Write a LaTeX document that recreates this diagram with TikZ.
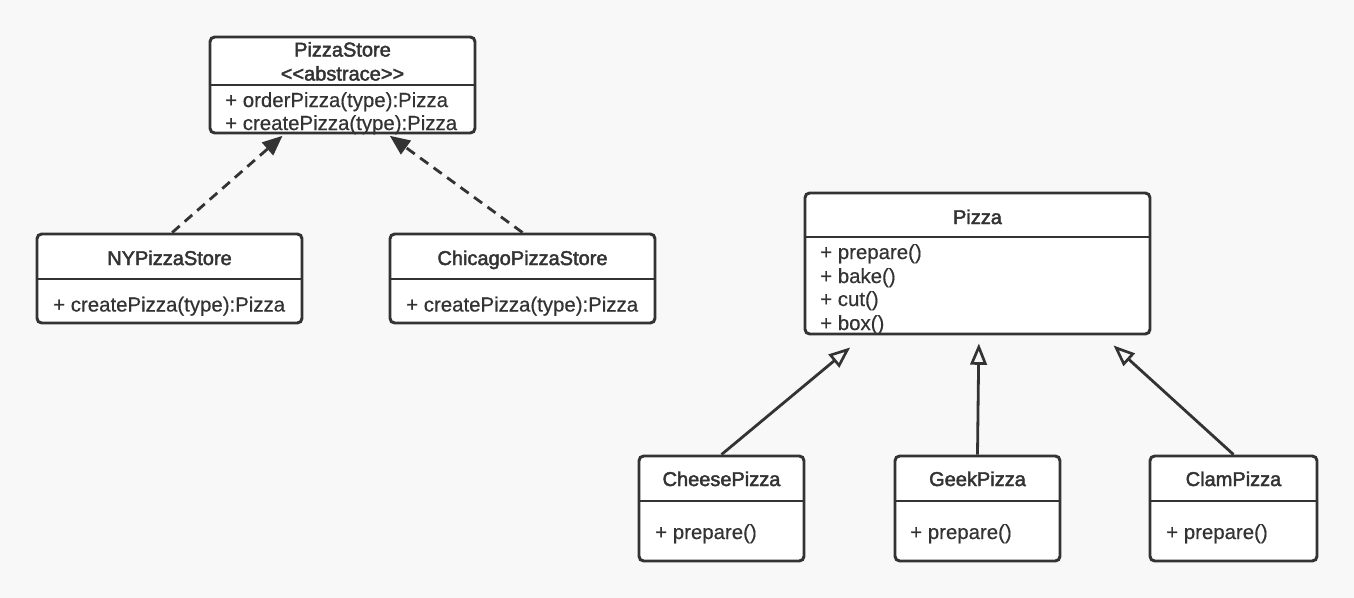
\documentclass[tikz,border=0pt]{standalone}
\usepackage{fontspec}
\setmainfont{Liberation Sans}
\newfontface\memfont{Liberation Sans}[FakeBold=0.4]
\newfontface\ttlfont{Liberation Sans}[FakeBold=2.2]
\usetikzlibrary{fit,arrows.meta}
\definecolor{ink}{HTML}{333333}
\definecolor{bg}{HTML}{F8F8F8}
\tikzset{
  umlbox/.style={draw=ink, line width=2.2pt, fill=white, rounded corners=3.5pt, inner sep=0pt},
  divider/.style={draw=ink, line width=2.2pt},
  ttl/.style={text=ink, font=\ttlfont\fontsize{15}{17}\selectfont, inner sep=0pt, anchor=mid},
  mem/.style={text=ink, font=\memfont\fontsize{15.3}{17}\selectfont, inner sep=0pt, anchor=mid west},
  realize/.style={draw=ink, line width=2.1pt, dash pattern=on 7.5pt off 5pt, -{Triangle[length=15pt,width=12.5pt]}},
  inherit/.style={draw=ink, line width=2.1pt, -{Triangle[open,length=16pt,width=12.5pt,line width=2pt]}},
}
\begin{document}
\begin{tikzpicture}[x=0.75pt,y=-0.75pt]
\useasboundingbox[fill=bg] (0,0) rectangle (1354,598);

% PizzaStore
\node[umlbox, fit={(210,37)(475,133)}] (ps) {};
\draw[divider] (ps.west |- 0,85) -- (ps.east |- 0,85);
\node[ttl] (psT) at (342.5,53) {PizzaStore};
\node[ttl] (psS) at (342.5,77) {{<}{<}abstrace{>}{>}};
\node[mem] (psM1) at (225,103.5) {+ orderPizza(type):Pizza};
\node[mem] (psM2) at (225,126.5) {+ createPizza(type):Pizza};

% NYPizzaStore
\node[umlbox, fit={(37,234)(302,323)}] (ny) {};
\draw[divider] (ny.west |- 0,279) -- (ny.east |- 0,279);
\node[ttl] (nyT) at (169.5,261.5) {NYPizzaStore};
\node[mem] (nyM) at (53,308) {+ createPizza(type):Pizza};

% ChicagoPizzaStore
\node[umlbox, fit={(390,234)(655,323)}] (chi) {};
\draw[divider] (chi.west |- 0,279) -- (chi.east |- 0,279);
\node[ttl] (chiT) at (522.5,261.5) {ChicagoPizzaStore};
\node[mem] (chiM) at (406,308) {+ createPizza(type):Pizza};

% Pizza
\node[umlbox, fit={(805,193)(1150,334)}] (pz) {};
\draw[divider] (pz.west |- 0,237) -- (pz.east |- 0,237);
\node[ttl] (pzT) at (977.5,220.5) {Pizza};
\node[mem] (pzM1) at (820,255.5) {+ prepare()};
\node[mem] (pzM2) at (820,279.5) {+ bake()};
\node[mem] (pzM3) at (820,302.5) {+ cut()};
\node[mem] (pzM4) at (820,326.5) {+ box()};

% CheesePizza
\node[umlbox, fit={(639,456)(804,561)}] (ch) {};
\draw[divider] (ch.west |- 0,501) -- (ch.east |- 0,501);
\node[ttl] (chT) at (721.5,482.5) {CheesePizza};
\node[mem] (chM) at (655,535.5) {+ prepare()};

% GeekPizza
\node[umlbox, fit={(895,456)(1060,561)}] (gk) {};
\draw[divider] (gk.west |- 0,501) -- (gk.east |- 0,501);
\node[ttl] (gkT) at (977.5,482.5) {GeekPizza};
\node[mem] (gkM) at (910,535.5) {+ prepare()};

% ClamPizza
\node[umlbox, fit={(1150,456)(1317,561)}] (cl) {};
\draw[divider] (cl.west |- 0,501) -- (cl.east |- 0,501);
\node[ttl] (clT) at (1233.5,482.5) {ClamPizza};
\node[mem] (clM) at (1166,535.5) {+ prepare()};

% connectors
\draw[realize] ([xshift=2pt]ny.north) -- ([xshift=-45pt,yshift=-1pt]ps.south);
\draw[realize] (chi.north) -- ([xshift=35.5pt,yshift=-1pt]ps.south);
\draw[inherit] (ch.north) -- ([xshift=-95.5pt,yshift=-9pt]pz.south);
\draw[inherit] (gk.north) -- ([xshift=1pt,yshift=-6pt]pz.south);
\draw[inherit] (cl.north) -- ([xshift=102pt,yshift=-7.5pt]pz.south);
\end{tikzpicture}
\end{document}
